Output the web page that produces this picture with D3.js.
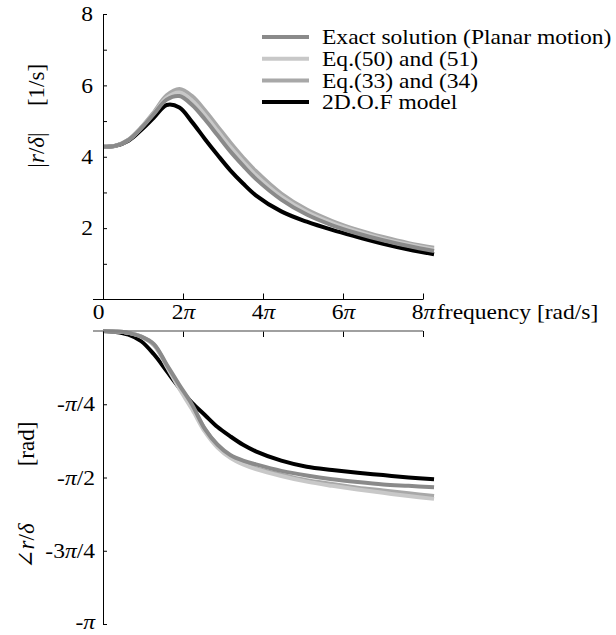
<!DOCTYPE html>
<html>
<head>
<meta charset="utf-8">
<script src="https://cdn.jsdelivr.net/npm/d3@7"></script>
<style>
  body { margin: 0; background: #fff; }
  svg { display: block; }
  svg text { font-family: "Liberation Serif", "Times New Roman", "DejaVu Serif", serif; fill: #000; }
</style>
</head>
<body>
<svg id="canvas"></svg>
<script>
// frequency points [rad/s]
const freqs = [0, 1, 2, 3, 4, 5, 6, 7, 8, 9, 10, 11, 12, 14, 16, 18, 20, 22, 24, 26];

// |r/delta| [1/s]
const magExact = [4.28, 4.31, 4.47, 4.8, 5.2, 5.6, 5.7, 5.45, 5.05, 4.6, 4.15, 3.75, 3.38, 2.8, 2.38, 2.08, 1.85, 1.66, 1.5, 1.36];
const magEq50 = [4.28, 4.31, 4.47, 4.81, 5.22, 5.65, 5.8, 5.57, 5.17, 4.72, 4.27, 3.86, 3.48, 2.88, 2.45, 2.14, 1.9, 1.7, 1.54, 1.4];
const magEq33 = [4.28, 4.31, 4.48, 4.82, 5.25, 5.72, 5.9, 5.7, 5.3, 4.85, 4.4, 3.98, 3.6, 2.97, 2.52, 2.2, 1.95, 1.75, 1.58, 1.45];
const mag2dof = [4.28, 4.31, 4.45, 4.75, 5.1, 5.45, 5.38, 4.97, 4.5, 4.05, 3.62, 3.25, 2.92, 2.47, 2.18, 1.95, 1.75, 1.56, 1.4, 1.27];

// angle r/delta [rad]
const phExact = [0, -0.005, -0.02, -0.06, -0.14, -0.36, -0.58, -0.79, -1.05, -1.22, -1.33, -1.39, -1.43, -1.5, -1.55, -1.59, -1.62, -1.645, -1.66, -1.675];
const phEq50 = [0, -0.005, -0.02, -0.06, -0.15, -0.38, -0.62, -0.84, -1.08, -1.25, -1.36, -1.43, -1.48, -1.555, -1.615, -1.66, -1.7, -1.735, -1.77, -1.8];
const phEq33 = [0, -0.005, -0.02, -0.06, -0.15, -0.37, -0.6, -0.81, -1.05, -1.23, -1.35, -1.42, -1.47, -1.54, -1.6, -1.64, -1.68, -1.71, -1.74, -1.77];
const ph2dof = [0, -0.01, -0.04, -0.11, -0.25, -0.43, -0.61, -0.77, -0.9, -1.03, -1.13, -1.22, -1.29, -1.39, -1.455, -1.49, -1.52, -1.545, -1.57, -1.59];

const seriesNames = ['Exact solution (Planar motion)', 'Eq.(50) and (51)', 'Eq.(33) and (34)', '2D.O.F model'];
const seriesColors = ['#8a8a8a', '#c8c8c8', '#a8a8a8', '#000000'];

const xTicks = [0, 2, 4, 6, 8];          // multiples of pi
const magTicks = [2, 4, 6, 8];
const magMinor = [1, 3, 5, 7];
const phTicks = [1, 2, 3, 4];            // multiples of -pi/4
const phLabels = ['-π/4', '-π/2', '-3π/4', '-π'];

const width = 616;
const height = 635;
const fontSize = 21;
const titleSize = 23;
const stretchX = 1.12;   // reference text is a bit wider than tall

let canvas = d3.select('#canvas').attr('width', width).attr('height', height);

let xScale = d3.scaleLinear().domain([0, 8 * Math.PI]).range([103, 423]);
let magScale = d3.scaleLinear().domain([0, 8]).range([299.5, 14]);
let phScale = d3.scaleLinear().domain([0, -Math.PI]).range([331, 624]);

// put italic pi into a label
let piText = (sel, label) => {
  sel.text(null);
  label.split('π').forEach((part, i) => {
    if (i > 0) sel.append('tspan').attr('font-style', 'italic').text('π');
    if (part) sel.append('tspan').text(part);
  });
};

// widen horizontal texts
let stretch = (sel) => {
  sel.each(function () {
    let len = this.getComputedTextLength();
    d3.select(this)
      .attr('textLength', len * stretchX)
      .attr('lengthAdjust', 'spacingAndGlyphs');
  });
};

let drawCurves = (yScale, seriesList) => {
  let line = d3.line()
    .x((d, i) => xScale(freqs[i]))
    .y(d => yScale(d))
    .curve(d3.curveCatmullRom.alpha(0.5));
  // black drawn first, grays over it
  [3, 2, 1, 0].forEach(k => {
    canvas.append('path')
      .attr('d', line(seriesList[k]))
      .attr('fill', 'none')
      .attr('stroke', seriesColors[k])
      .attr('stroke-width', 4);
  });
};

let drawAxes = () => {
  // top plot: frequency axis with labels
  let xAxisTop = d3.axisBottom(xScale)
    .tickValues(xTicks.map(t => t * Math.PI))
    .tickSizeInner(-6).tickSizeOuter(0).tickPadding(5)
    .tickFormat((d, i) => xTicks[i] === 0 ? '0' : xTicks[i] + 'π');
  let gx = canvas.append('g')
    .attr('transform', `translate(0, ${magScale(0)})`)
    .call(xAxisTop)
    .attr('font-family', null)
    .attr('font-size', fontSize);
  gx.select('.domain').remove();
  gx.append('line')
    .attr('x1', xScale(0) - 10).attr('x2', xScale(8 * Math.PI))
    .attr('stroke', '#000');
  gx.selectAll('.tick text')
    .attr('dx', (d, i) => xTicks[i] === 0 ? -5 : 0)
    .each(function (d, i) { piText(d3.select(this), xTicks[i] === 0 ? '0' : xTicks[i] + 'π'); });
  gx.append('text')
    .attr('x', xScale(8 * Math.PI) + 14)
    .attr('y', 5)
    .attr('dy', '0.71em')
    .attr('text-anchor', 'start')
    .text('frequency [rad/s]');
  stretch(gx.selectAll('text'));

  // top plot: magnitude axis
  let yAxisMag = d3.axisLeft(magScale)
    .tickValues(magTicks)
    .tickSizeInner(-4).tickSizeOuter(0).tickPadding(10)
    .tickFormat(d3.format('d'));
  let gy = canvas.append('g')
    .attr('transform', `translate(${xScale(0)}, 0)`)
    .call(yAxisMag)
    .attr('font-family', null)
    .attr('font-size', fontSize);
  stretch(gy.selectAll('.tick text'));
  gy.selectAll('.minor')
    .data(magMinor)
    .enter()
    .append('line')
    .attr('x1', 0).attr('x2', 4)
    .attr('y1', d => magScale(d) + 0.5).attr('y2', d => magScale(d) + 0.5)
    .attr('stroke', '#000');

  // bottom plot: frequency axis (no labels)
  let xAxisBot = d3.axisBottom(xScale)
    .tickValues(xTicks.map(t => t * Math.PI))
    .tickSizeInner(6).tickSizeOuter(0)
    .tickFormat('');
  let gxb = canvas.append('g')
    .attr('transform', `translate(0, ${phScale(0)})`)
    .call(xAxisBot);
  gxb.select('.domain').remove();
  gxb.append('line')
    .attr('x1', xScale(0) - 10).attr('x2', xScale(8 * Math.PI))
    .attr('stroke', '#808080').attr('stroke-width', 1.5);

  // bottom plot: phase axis
  let yAxisPh = d3.axisLeft(phScale)
    .tickValues(phTicks.map(t => -t * Math.PI / 4))
    .tickSizeInner(-4).tickSizeOuter(0).tickPadding(8)
    .tickFormat((d, i) => phLabels[i]);
  let gyb = canvas.append('g')
    .attr('transform', `translate(${xScale(0)}, 0)`)
    .call(yAxisPh)
    .attr('font-family', null)
    .attr('font-size', fontSize);
  gyb.selectAll('.tick text')
    .attr('dy', (d, i) => i === phTicks.length - 1 ? '0.2em' : '0.32em')
    .each(function (d, i) { piText(d3.select(this), phLabels[i]); });
  stretch(gyb.selectAll('.tick text'));
};

let addRotated = (x, y, parts) => {
  let t = canvas.append('text')
    .attr('transform', `translate(${x}, ${y}) rotate(-90)`)
    .attr('text-anchor', 'middle')
    .attr('font-size', titleSize);
  parts.forEach(p => {
    t.append('tspan').attr('font-style', p[1] ? 'italic' : null).text(p[0]);
  });
};

let drawTitles = () => {
  addRotated(44, 85, [['[1/s]', false]]);
  addRotated(44, 150, [['|', false], ['r', true], ['/', false], ['δ', true], ['|', false]]);
  addRotated(34, 444, [['[rad]', false]]);
  addRotated(34, 546, [['∠', false], ['r', true], ['/', false], ['δ', true]]);
};

let drawLegend = () => {
  let legend = canvas.append('g').attr('transform', 'translate(262, 37)');
  let rows = legend.selectAll('g')
    .data(seriesNames)
    .enter()
    .append('g')
    .attr('transform', (d, i) => `translate(0, ${i * 21.7})`);
  rows.append('line')
    .attr('x1', 0).attr('x2', 47)
    .attr('stroke', (d, i) => seriesColors[i])
    .attr('stroke-width', 4);
  let texts = rows.append('text')
    .attr('x', 60)
    .attr('dy', '0.35em')
    .attr('font-size', fontSize)
    .text(d => d);
  stretch(texts);
};

drawCurves(magScale, [magExact, magEq50, magEq33, mag2dof]);
drawCurves(phScale, [phExact, phEq50, phEq33, ph2dof]);
drawAxes();
drawTitles();
drawLegend();
</script>
</body>
</html>
